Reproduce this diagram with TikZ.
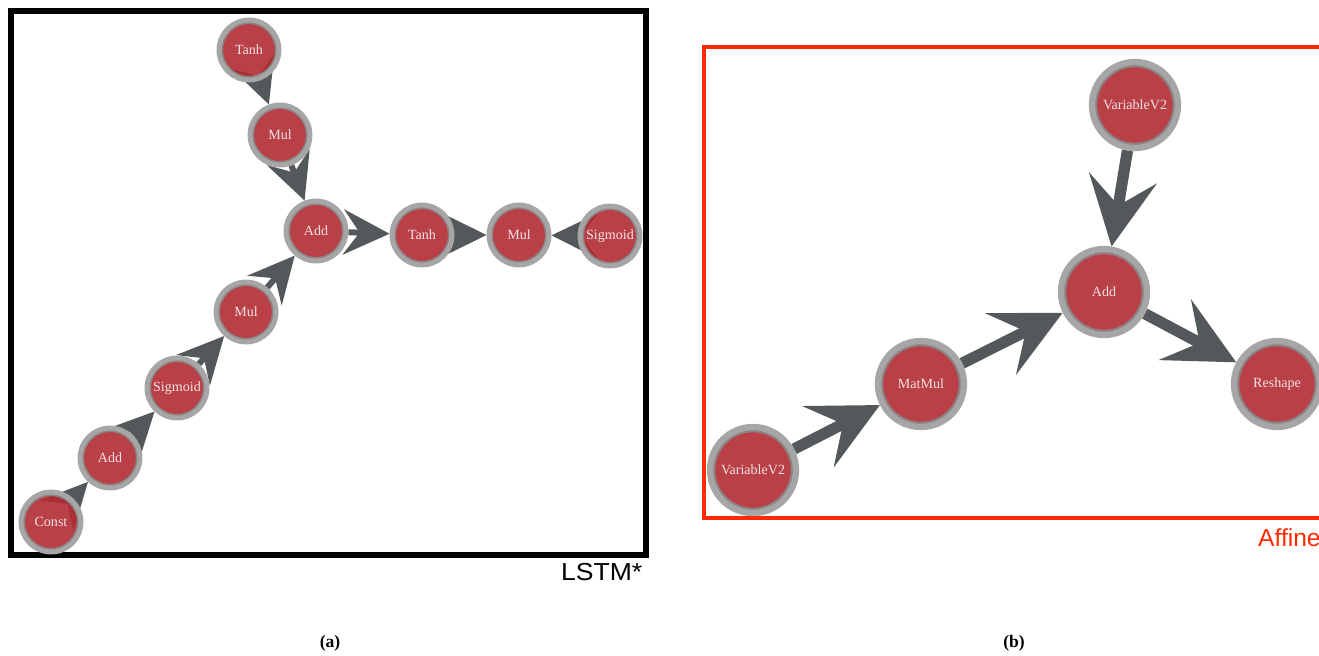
\documentclass[tikz,border=0pt]{standalone}
\usepackage{fontspec}
\setmainfont{Liberation Serif}
\newfontfamily\tagfont{Liberation Sans}
\usetikzlibrary{arrows.meta,backgrounds}
\definecolor{opred}{HTML}{B22B33}
\definecolor{opring}{HTML}{A6A6A6}
\definecolor{opringdark}{HTML}{8C8484}
\definecolor{optext}{HTML}{F3E1E1}
\definecolor{flowgray}{HTML}{53585B}
\definecolor{affinered}{HTML}{FF2A00}

\begin{document}
\begin{tikzpicture}[x=0.02cm,y=-0.02cm,
    op/.style={circle,fill=opred,fill opacity=0.9,text opacity=1,draw=opring,line width=2.8pt,
      minimum size=1.2cm,inner sep=0pt,text=optext,font=\fontsize{8}{9.6}\selectfont,
      path picture={\draw[opringdark,line width=4.6pt] (path picture bounding box.center) circle (0.6cm);}},
    bigop/.style={op,line width=3.6pt,minimum size=1.72cm,
      path picture={\draw[opringdark,line width=6pt] (path picture bounding box.center) circle (0.86cm);}},
    flow/.style={draw=flowgray,line width=3.4pt,-{Stealth[length=0.92cm,width=0.9cm,inset=0.32cm]}},
    bigflow/.style={draw=flowgray,line width=6.4pt,-{Stealth[length=1.38cm,width=1.36cm,inset=0.55cm]}}]
  \useasboundingbox (0,0) rectangle (1319,656);
  \clip (0,0) rectangle (1319,656);

  % (a) LSTM*
  \draw[line width=3.4pt] (11,11) rectangle (646,555);
  \node[op] (tanhtop) at (249,50) {Tanh};
  \node[op] (multop) at (280,135) {Mul};
  \node[op] (addmid) at (316,231) {Add};
  \node[op] (tanhmid) at (422,235) {Tanh};
  \node[op] (mulout) at (519,235) {Mul};
  \node[op] (sigout) at (610,236) {Sigmoid};
  \node[op] (mullow) at (246,312) {Mul};
  \node[op] (siglow) at (177,388) {Sigmoid};
  \node[op] (addlow) at (110,458) {Add};
  \node[op] (const) at (51,522) {Const};
  \node[font=\tagfont\fontsize{14}{16}\selectfont,anchor=base east,xscale=1.08] (lstm) at (649,580) {LSTM*};

  % (b) Affine
  \draw[affinered,line width=2.8pt] (704,47) rectangle (1360,518);
  \node[bigop] (varw) at (1135,105) {VariableV2};
  \node[bigop] (addb) at (1104,292) {Add};
  \node[bigop] (matmul) at (921,384) {MatMul};
  \node[bigop] (varx) at (753,470) {VariableV2};
  \node[bigop] (reshape) at (1277,384) {Reshape};
  \node[font=\tagfont\fontsize{14}{16}\selectfont,text=affinered,anchor=base west] (affine) at (1252,546) {Affine};

  \begin{scope}[on background layer]
    \draw[flow] (tanhtop) -- (multop);
    \draw[flow] (multop) -- (addmid);
    \draw[flow] (const) -- (addlow);
    \draw[flow] (addlow) -- (siglow);
    \draw[flow] (siglow) -- (mullow);
    \draw[flow] (mullow) -- (addmid);
    \draw[flow] (addmid) -- (tanhmid);
    \draw[flow] (tanhmid) -- (mulout);
    \draw[flow] (sigout) -- (mulout);
    \draw[bigflow] (varw) -- (addb);
    \draw[bigflow] (varx) -- (matmul);
    \draw[bigflow] (matmul) -- (addb);
    \draw[bigflow] (addb) -- (reshape);
  \end{scope}

  \node[font=\bfseries\fontsize{10}{12}\selectfont] (capa) at (330,643) {(a)};
  \node[font=\bfseries\fontsize{10}{12}\selectfont] (capb) at (1014,643) {(b)};
\end{tikzpicture}
\end{document}
